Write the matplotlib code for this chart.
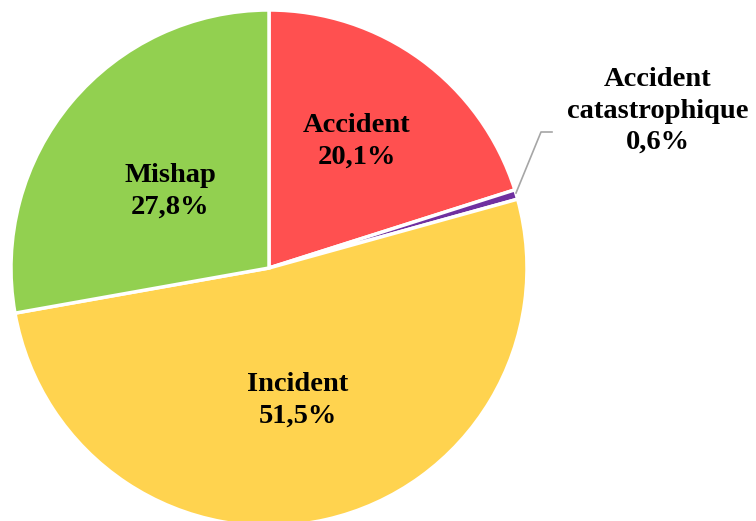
import matplotlib.pyplot as plt

# Data
labels = ['Accident', 'Accident\ncatastrophique', 'Incident', 'Mishap']
values = [20.1, 0.6, 51.5, 27.8]
colors = ['#FF5050', '#7030A0', '#FFD34F', '#92D050']

W, H = 756, 521
fig = plt.figure(figsize=(W / 100, H / 100), dpi=100)
ax = fig.add_axes([0, 0, 1, 1])

cx, cy, r = 269, H - 268, 258
wedges, _ = ax.pie(values, colors=colors, startangle=90, counterclock=False,
                   center=(cx, cy), radius=r, frame=True,
                   wedgeprops=dict(edgecolor='white', linewidth=2.5))
ax.set_xlim(0, W)
ax.set_ylim(0, H)
ax.set_aspect('equal')
ax.axis('off')

font = dict(family='Liberation Serif', fontweight='bold', fontsize=20.5,
            ha='center', va='center', linespacing=1.35)

label_pos = [(357, 141), (658, 111), (298, 400), (170, 191)]
for lab, val, (x, y) in zip(labels, values, label_pos):
    txt = f'{lab}\n{val:.1f}%'.replace('.', ',')
    ax.text(x, H - y, txt, **font)

# leader line for the small slice
ax.plot([516, 541, 552], [H - 193, H - 132, H - 132], color='#A6A6A6', lw=1.2)

fig.savefig('out.png', dpi=100)
